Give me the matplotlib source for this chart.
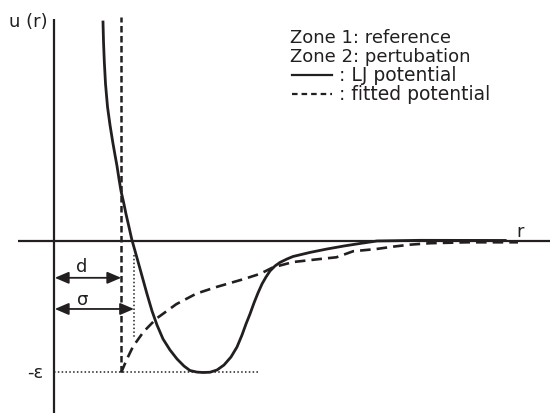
import matplotlib
matplotlib.use("Agg")
import matplotlib.pyplot as plt
from matplotlib.patches import FancyArrowPatch

plt.rcParams['font.family'] = ['DejaVu Sans']

# r in units of sigma, u in units of epsilon
lj_r = [0.6125, 0.619, 0.629, 0.644, 0.669, 0.70, 0.734, 0.7625, 0.7875, 0.8125, 0.8375,
        0.869, 0.90, 0.9375, 0.971, 1.0375, 1.10, 1.1625, 1.225, 1.2875, 1.3625, 1.45,
        1.5375, 1.625, 1.70, 1.7875, 1.8625, 1.95, 2.0375, 2.125, 2.2125, 2.2875, 2.35,
        2.40, 2.45, 2.50, 2.55, 2.60, 2.65, 2.70, 2.7625, 2.825, 2.9125, 2.9875, 3.20,
        3.4125, 3.625, 3.825, 4.0375, 4.575, 5.64]
lj_u = [1.665, 1.513, 1.361, 1.194, 1.019, 0.882, 0.753, 0.654, 0.570, 0.471, 0.380,
        0.297, 0.205, 0.106, 0.015, -0.129, -0.266, -0.403, -0.532, -0.639, -0.745, -0.829,
        -0.897, -0.951, -0.985, -0.997, -1.0, -0.998, -0.981, -0.943, -0.882, -0.806, -0.715,
        -0.631, -0.555, -0.471, -0.395, -0.327, -0.274, -0.228, -0.190, -0.163, -0.137, -0.118, -0.087,
        -0.061, -0.038, -0.019, 0.0, 0.005, 0.004]

fit_r = [0.84, 0.91, 0.99, 1.12, 1.28, 1.53, 1.78, 2.03, 2.37, 2.575, 2.74, 2.99,
         3.325, 3.53, 3.74, 4.03, 4.24, 4.45, 4.70, 5.16, 5.80]
fit_u = [-1.0, -0.90, -0.80, -0.69, -0.59, -0.48, -0.40, -0.35, -0.29, -0.25, -0.20, -0.16,
         -0.137, -0.124, -0.078, -0.061, -0.043, -0.028, -0.017, -0.01, -0.01]

d = 0.84
sigma = 1.0
eps = 1.0
legend_lines = ["Zone 1: reference", "Zone 2: pertubation", ": LJ potential", ": fitted potential"]

ink = '#231f20'

fig = plt.figure(figsize=(5.5, 4.14), dpi=100)
ax = fig.add_axes([0, 0, 1, 1])
ax.set_xlim(-0.675, 6.2)
ax.set_ylim(-1.308, 1.840)
ax.axis('off')

# axes
ax.plot([0, 0], [-1.31, 1.69], color=ink, lw=1.6, solid_capstyle='butt')
ax.plot([-0.45, 6.2], [0, 0], color=ink, lw=1.6, solid_capstyle='butt')

# hard core (d) and fitted potential
ax.plot([d, d], [-eps, 1.70], color=ink, lw=1.8, dashes=(2.6, 1.4))
ax.plot(fit_r, fit_u, color=ink, lw=1.9, dashes=(4, 2.3))
# LJ potential
ax.plot(lj_r, lj_u, color=ink, lw=2.0, solid_joinstyle='round')

# dotted guides
ax.plot([0, 2.55], [-eps, -eps], color=ink, lw=1.1, dashes=(1, 1.5))
ax.plot([sigma, sigma], [-0.11, -0.745], color=ink, lw=1.1, dashes=(1, 1.5))

# arrows for d and sigma
for x_end, yv in [(d, -0.28), (sigma, -0.517)]:
    ax.add_patch(FancyArrowPatch((0.01, yv), (x_end, yv),
                                 arrowstyle='<|-|>,head_length=0.7,head_width=0.3',
                                 mutation_scale=12, color=ink, lw=1.3,
                                 shrinkA=0, shrinkB=0))

fs = 13
ax.text(0.35, -0.19, 'd', fontsize=fs, color=ink, ha='center', va='center')
ax.text(0.36, -0.44, 'σ', fontsize=fs, color=ink, ha='center', va='center')
ax.text(-0.24, -1.0, '-ε', fontsize=fs, color=ink, ha='center', va='center')
ax.text(-0.325, 1.67, 'u (r)', fontsize=fs, color=ink, ha='center', va='center')
ax.text(5.825, 0.076, 'r', fontsize=fs, color=ink, ha='center', va='center')

# legend block
ly = [1.55, 1.41, 1.265, 1.12]
ax.text(2.95, ly[0], legend_lines[0], fontsize=fs, color=ink, va='center')
ax.text(2.95, ly[1], legend_lines[1], fontsize=fs, color=ink, va='center')
ax.plot([2.975, 3.47], [ly[2], ly[2]], color=ink, lw=1.6)
ax.text(3.56, ly[2], legend_lines[2], fontsize=13.5, color=ink, va='center')
ax.plot([2.975, 3.47], [ly[3], ly[3]], color=ink, lw=1.6, dashes=(2.5, 1.8))
ax.text(3.56, ly[3], legend_lines[3], fontsize=13.5, color=ink, va='center')

fig.savefig('out.png', dpi=100)
